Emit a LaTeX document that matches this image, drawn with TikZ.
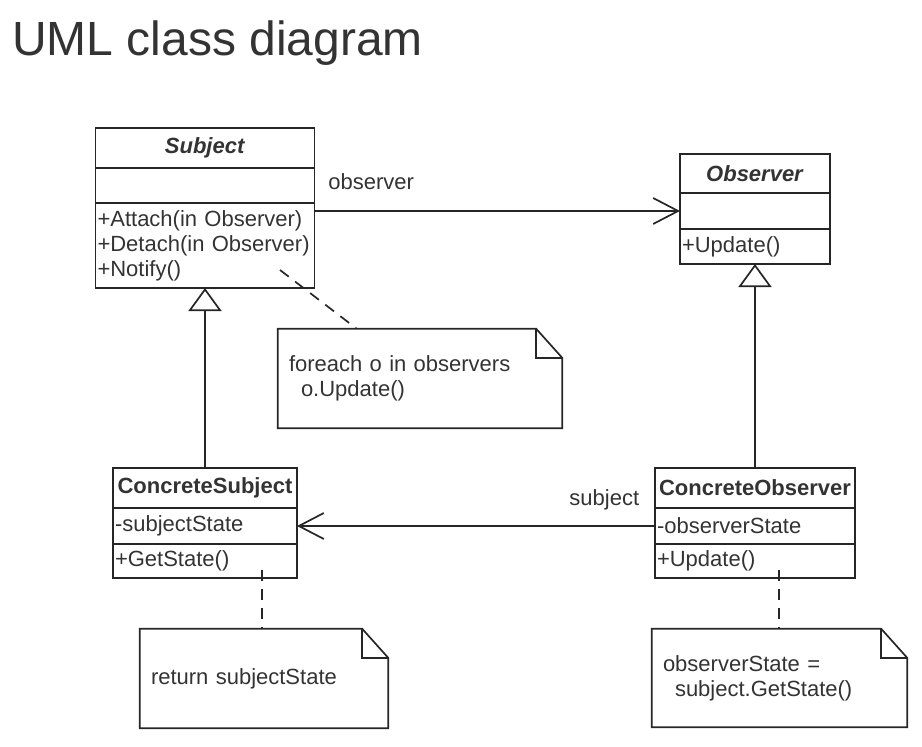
\documentclass[tikz,border=0pt]{standalone}
\usepackage{fontspec}
\setmainfont{Liberation Sans}
\usepackage{tikz}
\usetikzlibrary{arrows.meta,shapes,positioning}
\tikzstyle{classpart}=[draw=black!85,line width=1.7pt,outer sep=0pt,inner xsep=2pt,inner ysep=0pt,text=black!80]
\tikzstyle{classname}=[classpart,align=center,font=\fontsize{22}{25}\selectfont\bfseries]
\tikzstyle{members}=[classpart,align=left]
\tikzstyle{notebox}=[inner xsep=11pt,inner ysep=0pt,align=left,text=black!80,minimum height=99pt]
\tikzstyle{noteline}=[draw=black!85,line width=1.7pt]
\tikzstyle{assoc}=[draw=black!85,line width=1.7pt,-{Straight Barb[length=25pt,width=26pt]}]
\tikzstyle{inherit}=[draw=black!85,line width=1.7pt,-{Triangle[open,length=23pt,width=33pt]}]
\tikzstyle{anchorline}=[draw=black!85,line width=1.7pt,dash pattern=on 11pt off 8pt]
\tikzstyle{rolename}=[text=black!80,inner sep=0pt]
\newcommand{\indentline}{\hspace*{12pt}}
\begin{document}
\begin{tikzpicture}[x=1pt,y=-1pt,font=\fontsize{22}{25}\selectfont]
    \useasboundingbox (0,0) rectangle (922,747);
    \node[anchor=base west,inner sep=0pt,text=black!80,font=\fontsize{48}{56}\selectfont] (title) at (12,55) {UML class diagram};
    % abstract classes
    \node[classname,text width=215pt,minimum height=40pt] (subject) at (205,148) {\textit{Subject}};
    \node[members,text width=215pt,minimum height=35pt,below=0pt of subject] (subject-attr) {};
    \node[members,text width=215pt,minimum height=85pt,below=0pt of subject-attr] (subject-ops) {+Attach(in Observer)\\+Detach(in Observer)\\+Notify()};
    \node[classname,text width=146pt,minimum height=39pt] (observer) at (755,173.5) {\textit{Observer}};
    \node[members,text width=146pt,minimum height=36pt,below=0pt of observer] (observer-attr) {};
    \node[members,text width=146pt,minimum height=35pt,below=0pt of observer-attr] (observer-ops) {+Update()};
    % concrete classes
    \node[classname,text width=180pt,minimum height=40pt] (csubject) at (205,488) {ConcreteSubject};
    \node[members,text width=180pt,minimum height=36pt,below=0pt of csubject] (csubject-attr) {-subjectState};
    \node[members,text width=180pt,minimum height=34pt,below=0pt of csubject-attr] (csubject-ops) {+GetState()};
    \node[classname,text width=196pt,minimum height=40pt] (cobserver) at (755,488) {ConcreteObserver};
    \node[members,text width=196pt,minimum height=36pt,below=0pt of cobserver] (cobserver-attr) {-observerState};
    \node[members,text width=196pt,minimum height=34pt,below=0pt of cobserver-attr] (cobserver-ops) {+Update()};
    % notes
    \node[notebox,text width=262pt] (note1) at (420,378.5) {foreach o in observers\\\indentline o.Update()};
    \node[notebox,text width=226pt] (note2) at (264,678.5) {return subjectState};
    \node[notebox,text width=233pt,minimum height=98pt] (note3) at (779.5,678) {observerState =\\\indentline subject.GetState()};
    \foreach \n in {note1,note2,note3}{
        \draw[noteline] (\n.north west) -- ([xshift=-26pt]\n.north east) -- ([yshift=-29pt]\n.north east) -- (\n.south east) -- (\n.south west) -- cycle;
        \draw[noteline] ([xshift=-26pt]\n.north east) |- ([yshift=-29pt]\n.north east);
    }
    % relations
    \path[assoc] (subject-ops.east |- observer-attr.west) -- node[rolename,pos=0,anchor=base west,xshift=13pt,yshift=22pt] (lbl-observer) {observer} (observer-attr.west);
    \path[assoc] (cobserver-attr.west) -- node[rolename,pos=0,anchor=base east,xshift=-15pt,yshift=21pt] (lbl-subject) {subject} (csubject-attr.east);
    \path[inherit] (csubject.north) -- (subject-ops.south);
    \path[inherit] (cobserver.north) -- (observer-ops.south);
    \coordinate (notify) at (280,270);
    \coordinate (getstate) at (262,570);
    \coordinate (update) at (779,570);
    \path[anchorline] (notify) -- ([xshift=79pt]note1.north west);
    \path[anchorline] (getstate) -- (getstate |- note2.north);
    \path[anchorline] (update) -- (update |- note3.north);
\end{tikzpicture}
\end{document}
